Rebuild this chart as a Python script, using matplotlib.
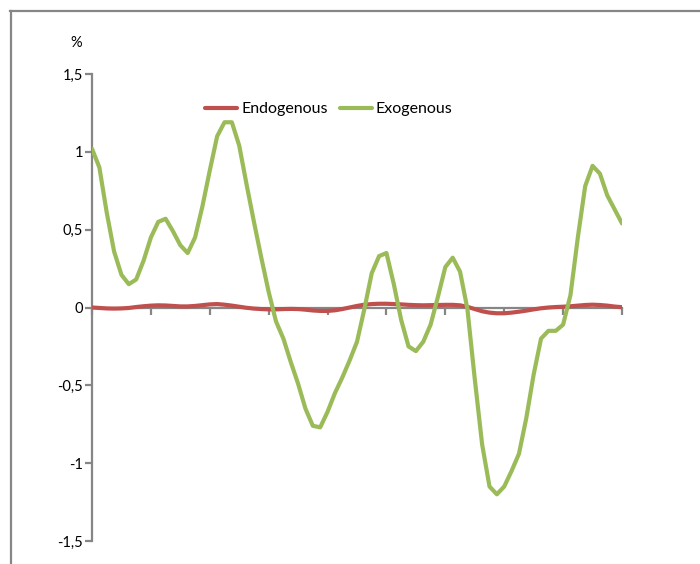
import matplotlib
matplotlib.use("Agg")
import matplotlib.pyplot as plt
from matplotlib.lines import Line2D

# Data
endogenous = [0.0, -0.003, -0.006, -0.007, -0.006, -0.003, 0.003, 0.008, 0.012, 0.014,
              0.013, 0.01, 0.007, 0.007, 0.01, 0.015, 0.02, 0.022, 0.018, 0.012,
              0.005, -0.002, -0.007, -0.01, -0.012, -0.012, -0.01, -0.009, -0.01, -0.014,
              -0.019, -0.022, -0.022, -0.018, -0.01, 0.0, 0.01, 0.018, 0.022, 0.024,
              0.024, 0.022, 0.02, 0.017, 0.015, 0.014, 0.015, 0.016, 0.017, 0.017,
              0.014, 0.004, -0.01, -0.024, -0.033, -0.037, -0.037, -0.033, -0.027, -0.02,
              -0.012, -0.005, 0.0, 0.003, 0.005, 0.008, 0.012, 0.016, 0.018, 0.016,
              0.012, 0.006, 0.002]
exogenous = [1.02, 0.90, 0.61, 0.36, 0.21, 0.15, 0.18, 0.30, 0.45, 0.55,
             0.57, 0.49, 0.40, 0.35, 0.45, 0.65, 0.88, 1.10, 1.19, 1.19,
             1.04, 0.79, 0.55, 0.32, 0.10, -0.09, -0.20, -0.35, -0.49, -0.65,
             -0.76, -0.77, -0.67, -0.55, -0.45, -0.34, -0.22, -0.01, 0.22, 0.33,
             0.35, 0.15, -0.08, -0.25, -0.28, -0.22, -0.11, 0.07, 0.26, 0.32,
             0.23, -0.01, -0.46, -0.88, -1.15, -1.20, -1.15, -1.05, -0.94, -0.71,
             -0.43, -0.20, -0.15, -0.15, -0.11, 0.08, 0.45, 0.78, 0.91, 0.86,
             0.72, 0.63, 0.54]
series_names = ["Endogenous", "Exogenous"]
y_ticks = [-1.5, -1.0, -0.5, 0.0, 0.5, 1.0, 1.5]
y_tick_labels = ["-1,5", "-1", "-0,5", "0", "0,5", "1", "1,5"]
x_tick_step = 8
unit_label = "%"

RED = "#C0504D"
GREEN = "#9BBB59"
GRAY = "#868686"

plt.rcParams['font.family'] = ['Lato', 'DejaVu Sans']

W, H = 700, 564
fig = plt.figure(figsize=(W / 100, H / 100), dpi=100)

# outer chart border (cut on right/bottom)
fig.add_artist(Line2D([10 / W, 1.0], [1 - 10.5 / H, 1 - 10.5 / H], transform=fig.transFigure,
                      color=GRAY, lw=1.6))
fig.add_artist(Line2D([10.5 / W, 10.5 / W], [0.0, 1 - 10.5 / H], transform=fig.transFigure,
                      color=GRAY, lw=1.6))

ax = fig.add_axes([92 / W, (H - 541) / H, (622 - 92) / W, (541 - 74) / H])
x = list(range(len(exogenous)))
l1, = ax.plot(x, endogenous, color=RED, lw=3.0, zorder=4, solid_capstyle='round')
l2, = ax.plot(x, exogenous, color=GREEN, lw=3.0, zorder=5, solid_capstyle='round')

ax.set_xlim(0, len(exogenous) - 1)
ax.set_ylim(-1.5, 1.5)
ax.set_yticks(y_ticks)
ax.set_yticklabels(y_tick_labels, fontsize=10.5)
ax.set_xticks(list(range(0, len(exogenous), x_tick_step)))
ax.set_xticklabels([])

for s in ['top', 'right']:
    ax.spines[s].set_visible(False)
ax.spines['bottom'].set_position(('data', 0))
for s in ['left', 'bottom']:
    ax.spines[s].set_color(GRAY)
    ax.spines[s].set_linewidth(1.6)
    ax.spines[s].set_zorder(2)
ax.tick_params(axis='both', direction='out', color=GRAY, width=1.6, length=5)
ax.tick_params(axis='y', pad=1.5)
ax.patch.set_alpha(0)

fig.text(82 / W, 1 - 43 / H, unit_label, ha='right', va='center', fontsize=10.5)

fig.legend([l1, l2], series_names, loc='center', bbox_to_anchor=(329 / W, 1 - 109 / H),
           ncol=2, frameon=False, fontsize=11.5, handlelength=2.0, handletextpad=0.25,
           columnspacing=0.75, borderaxespad=0)

fig.savefig("out.png", dpi=100)
